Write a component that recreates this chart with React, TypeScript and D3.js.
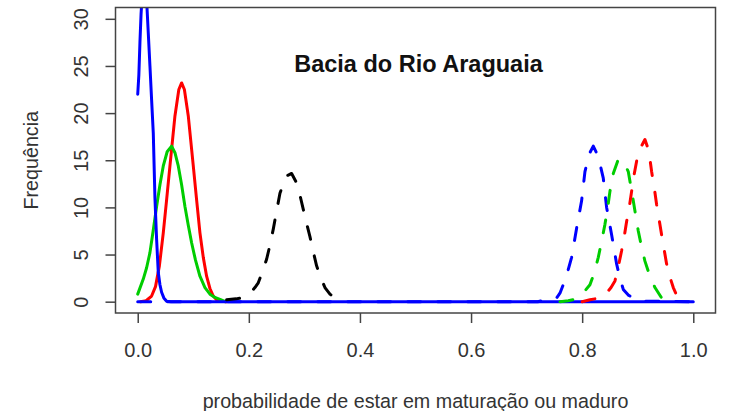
import {useEffect, useRef} from "react"

import * as d3 from "d3"

// curve readings: [probabilidade, frequência]
const blueSolid: [number, number][] = [
  [0, 22], [0.002, 24], [0.004, 27.5], [0.006, 30.5], [0.008, 32.5], [0.012, 33.5],
  [0.016, 32], [0.019, 28.5], [0.022, 25], [0.025, 21.4], [0.028, 17.9], [0.031, 11],
  [0.034, 6.6], [0.037, 3.1], [0.04, 1.8], [0.043, 1.0], [0.047, 0.4], [0.052, 0.05],
  [0.06, 0], [1, 0],
]
const redSolid: [number, number][] = [
  [0.005, 0], [0.015, 0.1], [0.025, 0.6], [0.032, 1.6], [0.039, 3.8], [0.046, 7.3],
  [0.052, 10.8], [0.058, 14.4], [0.067, 19.7], [0.074, 22.5], [0.079, 23.2], [0.084, 22.5],
  [0.091, 19.7], [0.1, 14.4], [0.106, 10.8], [0.112, 7.3], [0.118, 4.7], [0.124, 2.7],
  [0.13, 1.4], [0.136, 0.6], [0.142, 0.2], [0.148, 0.05], [0.16, 0],
]
const greenSolid: [number, number][] = [
  [0, 0.8], [0.01, 2.4], [0.016, 3.6], [0.022, 5.2], [0.028, 7.6], [0.034, 10.1],
  [0.04, 12.4], [0.046, 14.4], [0.053, 15.9], [0.061, 16.5], [0.067, 15.8], [0.073, 14.4],
  [0.079, 12.4], [0.085, 10.1], [0.091, 8.1], [0.097, 6.25], [0.104, 4.4], [0.112, 2.7],
  [0.121, 1.5], [0.13, 0.8], [0.139, 0.45], [0.148, 0.25], [0.158, 0],
]
const blackDashed: [number, number][] = [
  [0.16, 0.2], [0.177, 0.3], [0.187, 0.4], [0.196, 0.7], [0.205, 1.1], [0.211, 1.5],
  [0.217, 2.0], [0.224, 3.1], [0.232, 4.5], [0.238, 6.0], [0.244, 7.7], [0.25, 9.6],
  [0.256, 11.5], [0.264, 12.8], [0.27, 13.4], [0.277, 13.6], [0.286, 12.6], [0.292, 11.3],
  [0.298, 9.8], [0.304, 8.3], [0.31, 6.9], [0.316, 5.3], [0.322, 3.8], [0.33, 2.5],
  [0.337, 1.5], [0.346, 0.8], [0.358, 0.25], [0.368, 0.1],
]
const blueDashed: [number, number][] = [
  [0, 0], [0.72, 0], [0.727, 0.1], [0.74, 0.2], [0.754, 0.4], [0.76, 0.9], [0.766, 1.8],
  [0.774, 3.2], [0.781, 4.7], [0.79, 7.8], [0.799, 10.7], [0.805, 13.8], [0.813, 15.7],
  [0.82, 16.5], [0.829, 15.4], [0.838, 13.1], [0.844, 10], [0.853, 7.1], [0.862, 4],
  [0.868, 2.5], [0.874, 1.3], [0.883, 0.7], [0.892, 0.4], [0.9, 0.2], [0.91, 0.05], [1, 0],
]
const greenDashed: [number, number][] = [
  [0.76, 0], [0.775, 0.1], [0.787, 0.25], [0.8, 0.8], [0.814, 1.8], [0.822, 3.1],
  [0.829, 4.7], [0.835, 6.4], [0.841, 8.2], [0.846, 10], [0.85, 11.7], [0.856, 13.6],
  [0.865, 15.1], [0.874, 14.9], [0.883, 13.8], [0.892, 10.7], [0.901, 7.5], [0.907, 5.8],
  [0.913, 4.3], [0.922, 2.7], [0.931, 1.5], [0.943, 0.4], [0.955, 0.1], [0.965, 0],
]
const redDashed: [number, number][] = [
  [0.8, 0], [0.814, 0.2], [0.832, 0.4], [0.845, 1.0], [0.852, 1.5], [0.859, 2.2],
  [0.865, 3.7], [0.871, 5.4], [0.876, 7.0], [0.88, 8.5], [0.885, 10.1], [0.889, 11.7],
  [0.893, 13.3], [0.898, 14.9], [0.905, 16.3], [0.913, 17.2], [0.92, 16.0], [0.925, 13.8],
  [0.93, 12.0], [0.934, 10.3], [0.943, 7.1], [0.952, 4], [0.958, 2.6], [0.964, 1.5],
  [0.97, 0.7], [0.976, 0.25], [0.985, 0],
]

const xTicks = [0, 0.2, 0.4, 0.6, 0.8, 1.0]
const yTicks = [0, 5, 10, 15, 20, 25, 30]

const title = "Bacia do Rio Araguaia"
const xLabel = "probabilidade de estar em maturação ou maduro"
const yLabel = "Frequência"

const width = 732
const height = 411
const plot = {left: 115.5, right: 715.5, top: 7.5, bottom: 313}
const font = "'Liberation Sans', Arial, sans-serif"

// drawing order matters for the overlaps along zero
const series = [
  {data: redSolid, color: "#ff0000", dashed: false},
  {data: greenSolid, color: "#00cd00", dashed: false},
  {data: blueDashed, color: "#0000ff", dashed: true},
  {data: blueSolid, color: "#0000ff", dashed: false},
  {data: blackDashed, color: "#000000", dashed: true},
  {data: greenDashed, color: "#00cd00", dashed: true},
  {data: redDashed, color: "#ff0000", dashed: true},
]

const App = (): JSX.Element => {
  const ref = useRef<SVGSVGElement>(null)

  useEffect(() => {
    const svg = d3.select(ref.current)
    svg.selectAll("*").remove()

    const xScale = d3.scaleLinear().domain([-0.04, 1.04]).range([plot.left, plot.right])
    const yScale = d3.scaleLinear().domain([-1.2, 31.2]).range([plot.bottom, plot.top])

    svg
      .append("rect")
      .attr("width", width)
      .attr("height", height)
      .attr("fill", "white")

    svg
      .append("defs")
      .append("clipPath")
      .attr("id", "plotClip")
      .append("rect")
      .attr("x", plot.left)
      .attr("y", plot.top)
      .attr("width", plot.right - plot.left)
      .attr("height", plot.bottom - plot.top)

    const line = d3
      .line<[number, number]>()
      .x((d) => xScale(d[0]))
      .y((d) => yScale(d[1]))

    const curves = svg.append("g").attr("clip-path", "url(#plotClip)")
    for (const s of series) {
      curves
        .append("path")
        .attr("d", line(s.data))
        .attr("fill", "none")
        .attr("stroke", s.color)
        .attr("stroke-width", 3)
        .attr("stroke-linecap", "round")
        .attr("stroke-linejoin", "round")
        .attr("stroke-dasharray", s.dashed ? "13 17" : null)
    }

    // box
    svg
      .append("rect")
      .attr("x", plot.left)
      .attr("y", plot.top)
      .attr("width", plot.right - plot.left)
      .attr("height", plot.bottom - plot.top)
      .attr("fill", "none")
      .attr("stroke", "#444")
      .attr("stroke-width", 1.5)

    const xAxis = d3
      .axisBottom(xScale)
      .tickValues(xTicks)
      .tickFormat(d3.format(".1f"))
      .tickSize(10)
      .tickPadding(20)
    const xg = svg.append("g").attr("transform", `translate(0,${plot.bottom})`).call(xAxis)
    xg.select(".domain").remove()
    xg.selectAll("line").attr("stroke", "#444").attr("stroke-width", 1.5)
    xg.selectAll("text")
      .attr("font-family", font)
      .attr("font-size", 20)
      .attr("fill", "#333")

    const yAxis = d3.axisLeft(yScale).tickValues(yTicks).tickSize(10)
    const yg = svg.append("g").attr("transform", `translate(${plot.left},0)`).call(yAxis)
    yg.select(".domain").remove()
    yg.selectAll("line").attr("stroke", "#444").attr("stroke-width", 1.5)
    yg.selectAll("text")
      .attr("font-family", font)
      .attr("font-size", 20)
      .attr("fill", "#333")
      .attr("x", null)
      .attr("dy", null)
      .attr("text-anchor", "middle")
      .attr("transform", "translate(-28,0) rotate(-90)")

    svg
      .append("text")
      .attr("x", (plot.left + plot.right) / 2)
      .attr("y", 408)
      .attr("text-anchor", "middle")
      .attr("font-family", font)
      .attr("font-size", 19.7)
      .attr("fill", "#333")
      .text(xLabel)

    svg
      .append("text")
      .attr("transform", `translate(38,${(plot.top + plot.bottom) / 2}) rotate(-90)`)
      .attr("text-anchor", "middle")
      .attr("font-family", font)
      .attr("font-size", 19.7)
      .attr("fill", "#333")
      .text(yLabel)

    svg
      .append("text")
      .attr("x", 418.5)
      .attr("y", 71.5)
      .attr("text-anchor", "middle")
      .attr("font-family", font)
      .attr("font-size", 23.5)
      .attr("font-weight", "bold")
      .attr("fill", "#111")
      .text(title)
  }, [])

  return (
    <svg
      ref={ref}
      width={width}
      height={height}
      style={{position: "absolute", left: 0, top: 0}}
    />
  )
}

export default App
